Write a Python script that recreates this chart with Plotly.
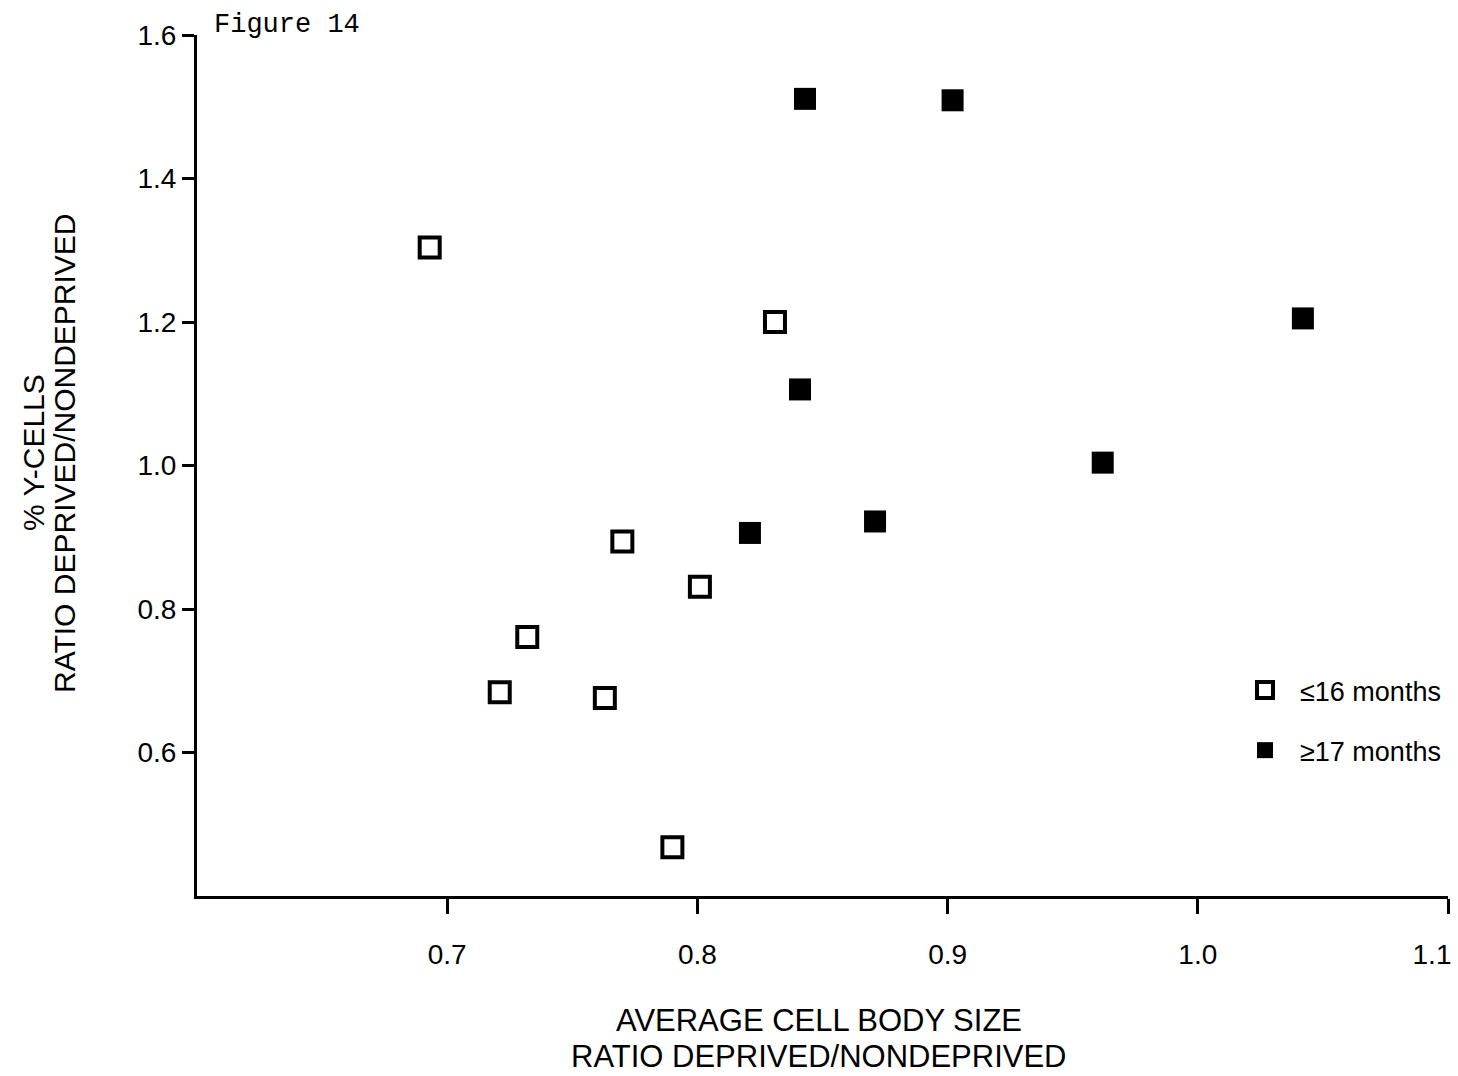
import plotly.graph_objects as go

young_x = [0.693, 0.831, 0.770, 0.801, 0.732, 0.721, 0.763, 0.790]
young_y = [1.304, 1.200, 0.894, 0.831, 0.761, 0.684, 0.676, 0.468]
old_x = [0.843, 0.902, 1.042, 0.841, 0.962, 0.871, 0.821]
old_y = [1.511, 1.509, 1.205, 1.106, 1.004, 0.922, 0.906]

x_ticks = [0.7, 0.8, 0.9, 1.0, 1.1]
x_labels = ["0.7", "0.8", "0.9", "1.0", ""]
x_end_tick = [1.1]
x_end_label = ["1.1"]
y_ticks = [0.6, 0.8, 1.0, 1.2, 1.4, 1.6]
y_labels = ["0.6", "0.8", "1.0", "1.2", "1.4", "1.6"]

fig = go.Figure()
fig.add_trace(go.Scatter(
    x=young_x, y=young_y, mode="markers", name="≤16 months",
    legendgroup="a",
    marker=dict(symbol="square-open", size=20, color="black", line=dict(width=4, color="black")),
))
fig.add_trace(go.Scatter(
    x=old_x, y=old_y, mode="markers", name="≥17 months",
    legendgroup="b",
    marker=dict(symbol="square", size=22, color="black", line=dict(width=0)),
))
# empty helper trace so the overlay axis carrying the last tick label is drawn
fig.add_trace(go.Scatter(
    x=x_end_tick, y=[None], xaxis="x2", yaxis="y", mode="markers",
    showlegend=False, hoverinfo="skip",
))

font = "Liberation Sans, Arial, sans-serif"
W, H = 1458, 1076
L, R, T, B = 197, 10, 35, 180
pw = W - L - R
ph = H - T - B

def px_x(p):
    return (p - L) / pw

def px_y(p):
    return (H - B - p) / ph

fig.update_layout(
    width=W, height=H,
    margin=dict(l=L, r=R, t=T, b=B, autoexpand=False),
    plot_bgcolor="white", paper_bgcolor="white",
    font=dict(family=font, size=28, color="black"),
    showlegend=True,
    legend=dict(x=px_x(1230), y=px_y(666), xanchor="left", yanchor="top",
                font=dict(size=27, family=font), tracegroupgap=22,
                bgcolor="rgba(0,0,0,0)", itemwidth=60),
    xaxis=dict(range=[0.6, 1.1], tickvals=x_ticks, ticktext=x_labels, automargin=False,
               showgrid=False, zeroline=False, showline=True, linecolor="black", linewidth=3,
               ticks="outside", ticklen=15, tickwidth=3, tickcolor="black",
               ticklabelstandoff=16,
               tickfont=dict(size=28, family=font)),
    xaxis2=dict(range=[0.6, 1.1], overlaying="x", anchor="y", side="bottom",
                tickvals=x_end_tick, ticktext=x_end_label, automargin=False,
                showgrid=False, zeroline=False, showline=False, ticks="",
                ticklabelstandoff=39, ticklabelshift=-16, ticklabeloverflow="allow",
                tickfont=dict(size=28, family=font)),
    yaxis=dict(range=[0.4, 1.6], tickvals=y_ticks, ticktext=y_labels, automargin=False,
               showgrid=False, zeroline=False, showline=True, linecolor="black", linewidth=3,
               ticks="outside", ticklen=12, tickwidth=3, tickcolor="black",
               tickfont=dict(size=28, family=font)),
    annotations=[
        dict(text="Figure 14", x=px_x(212), y=px_y(25), xref="paper", yref="paper",
             xanchor="left", yanchor="middle", showarrow=False,
             font=dict(family="Liberation Mono, Courier New, monospace", size=27)),
        dict(text="AVERAGE CELL BODY SIZE", x=px_x(819), y=px_y(1021), xref="paper", yref="paper",
             xanchor="center", yanchor="middle", showarrow=False, font=dict(size=31)),
        dict(text="RATIO DEPRIVED/NONDEPRIVED", x=px_x(819), y=px_y(1056), xref="paper", yref="paper",
             xanchor="center", yanchor="middle", showarrow=False, font=dict(size=31)),
        dict(text="% Y-CELLS", textangle=-90, x=px_x(33), y=px_y(453),
             xref="paper", yref="paper", xanchor="center", yanchor="middle",
             showarrow=False, font=dict(size=30)),
        dict(text="RATIO DEPRIVED/NONDEPRIVED", textangle=-90, x=px_x(64), y=px_y(453),
             xref="paper", yref="paper", xanchor="center", yanchor="middle",
             showarrow=False, font=dict(size=30)),
    ],
)

fig.write_html("out.html")
